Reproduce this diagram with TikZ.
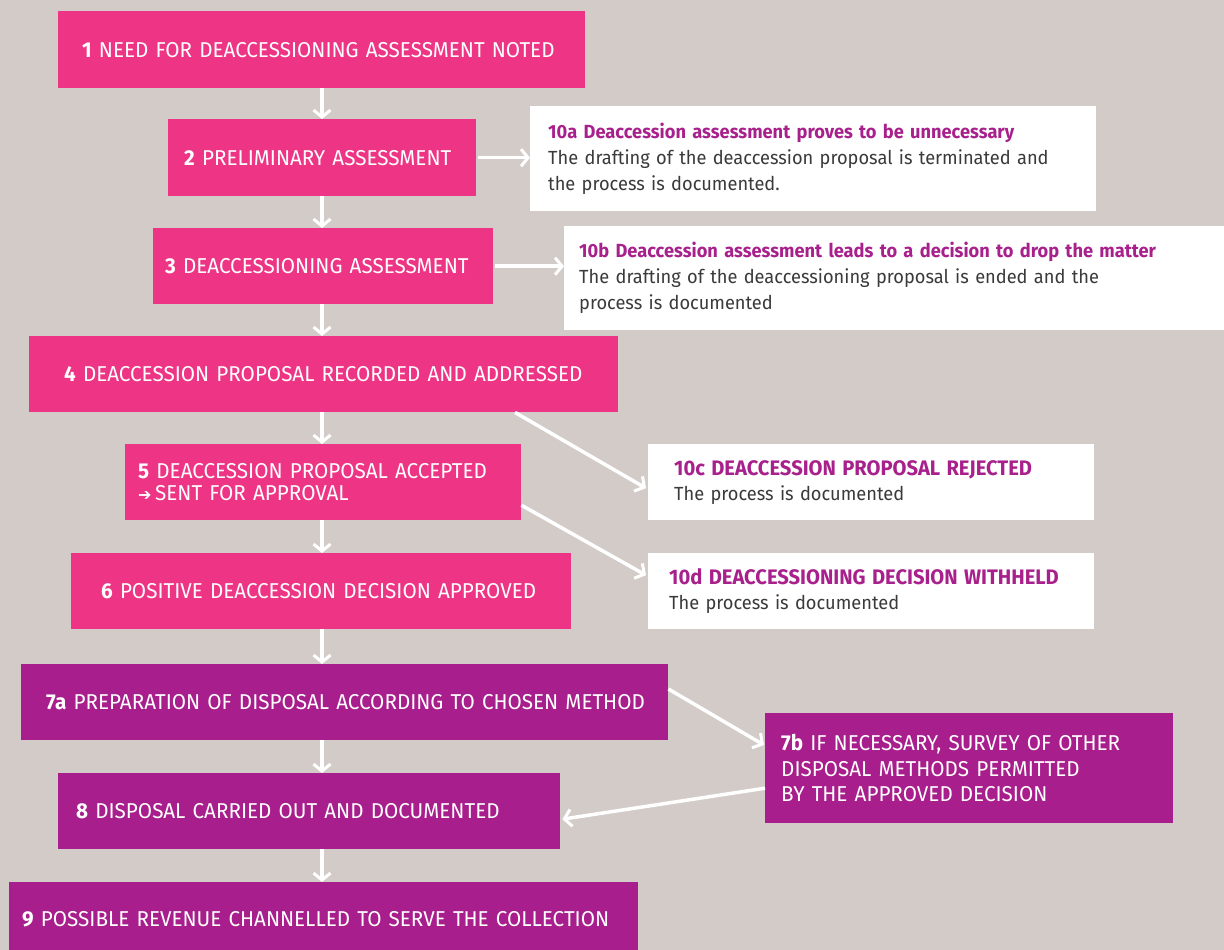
\documentclass[tikz,border=0pt]{standalone}
\usepackage{fontspec}
\setmainfont{Fira Sans}[FakeStretch=0.96]
\newfontfamily\symfont{DejaVu Sans}
\usetikzlibrary{arrows.meta,calc}
\definecolor{bgc}{HTML}{D3CBC8}
\definecolor{pinkc}{HTML}{EE3585}
\definecolor{purpc}{HTML}{A81E8C}
\definecolor{ttlc}{HTML}{A8208C}
\definecolor{bodyc}{HTML}{3A3A3A}
\begin{document}
\begin{tikzpicture}[x=1pt,y=-1pt,
  pbox/.style={fill=pinkc, text=white, anchor=north west, align=left,
    font=\fontsize{21.5}{22}\selectfont, inner ysep=0pt},
  vbox/.style={pbox, fill=purpc, font=\fontsize{21.5}{25.5}\selectfont},
  wbox/.style={fill=white, text=bodyc, anchor=north west, align=left,
    font=\fontsize{19}{26}\selectfont, inner ysep=0pt},
  capttl/.style={font=\fontsize{21.5}{25}\selectfont},
  flow/.style={draw=white, line width=3.5pt,
    -{Straight Barb[length=7pt,width=17pt,line width=3pt]}},
]
\clip (0,0) rectangle (1224,950);
\fill[bgc] (0,0) rectangle (1224,950);

% main column
\node[pbox, text width=479pt, inner xsep=24pt, minimum height=77pt] (n1) at (58,11)
  {\mbox{\textbf{1} NEED FOR DEACCESSIONING ASSESSMENT NOTED}};
\node[pbox, text width=276pt, inner xsep=16pt, minimum height=77pt] (n2) at (168,119)
  {\mbox{\textbf{2} PRELIMINARY ASSESSMENT}};
\node[pbox, text width=316pt, inner xsep=12pt, minimum height=76pt] (n3) at (153,228)
  {\mbox{\textbf{3} DEACCESSIONING ASSESSMENT}};
\node[pbox, text width=519pt, inner xsep=35pt, minimum height=76pt] (n4) at (29,336)
  {\mbox{\textbf{4} DEACCESSION PROPOSAL RECORDED AND ADDRESSED}};
\node[pbox, text width=370pt, inner xsep=13pt, minimum height=76pt] (n5) at (125,444)
  {\mbox{\textbf{5} DEACCESSION PROPOSAL ACCEPTED}\\\mbox{{\symfont\bfseries\fontsize{16}{16}\selectfont ➔}\,SENT FOR APPROVAL}};
\node[pbox, text width=440pt, inner xsep=30pt, minimum height=76pt] (n6) at (71,553)
  {\mbox{\textbf{6} POSITIVE DEACCESSION DECISION APPROVED}};
\node[vbox, text width=597pt, inner xsep=25pt, minimum height=76pt] (n7a) at (21,664)
  {\mbox{\textbf{7a} PREPARATION OF DISPOSAL ACCORDING TO CHOSEN METHOD}};
\node[vbox, text width=466pt, inner xsep=18pt, minimum height=76pt] (n8) at (58,773)
  {\mbox{\textbf{8} DISPOSAL CARRIED OUT AND DOCUMENTED}};
\node[vbox, text width=603pt, inner xsep=13pt, minimum height=74pt] (n9) at (9,882)
  {\mbox{\textbf{9} POSSIBLE REVENUE CHANNELLED TO SERVE THE COLLECTION}};
\node[vbox, text width=376pt, inner xsep=16pt, minimum height=110pt] (n7b) at (765,713)
  {\mbox{\textbf{7b} IF NECESSARY, SURVEY OF OTHER}\\\mbox{DISPOSAL METHODS PERMITTED}\\\mbox{BY THE APPROVED DECISION}};

% side boxes
\node[wbox, text width=530pt, inner xsep=18pt, minimum height=105pt] (n10a) at (530,106)
  {\mbox{\textcolor{ttlc}{\textbf{10a Deaccession assessment proves to be unnecessary}}}\\
   \mbox{The drafting of the deaccession proposal is terminated and}\\\mbox{the process is documented.}};
\node[wbox, text width=630pt, inner xsep=15pt, minimum height=104pt] (n10b) at (564,226)
  {\mbox{\textcolor{ttlc}{\textbf{10b Deaccession assessment leads to a decision to drop the matter}}}\\
   \mbox{The drafting of the deaccessioning proposal is ended and the}\\\mbox{process is documented}};
\node[wbox, text width=394pt, inner xsep=26pt, minimum height=76pt, font=\fontsize{19}{25}\selectfont] (n10c) at (648,444)
  {\mbox{\textcolor{ttlc}{\fontsize{21}{25}\selectfont\textbf{10c DEACCESSION PROPOSAL REJECTED}}}\\\mbox{The process is documented}};
\node[wbox, text width=404pt, inner xsep=21pt, minimum height=76pt, font=\fontsize{19}{25}\selectfont] (n10d) at (648,553)
  {\mbox{\textcolor{ttlc}{\fontsize{21}{25}\selectfont\textbf{10d DEACCESSIONING DECISION WITHHELD}}}\\\mbox{The process is documented}};

% vertical flow
\foreach \a/\b in {n1/n2,n2/n3,n3/n4,n4/n5,n5/n6,n6/n7a,n7a/n8,n8/n9}
  \draw[flow] (\a.south -| 322,0) -- (\b.north -| 322,0);

% side arrows
\draw[flow] (n2.east) ++(2,0) -- (n2.east -| n10a.west);
\draw[flow] (n3.east) ++(2,0) -- (n3.east -| n10b.west);
\draw[flow] ($(n4.south west)+(486,0)$) -- ($(n10c.west)+(-2,6)$);
\draw[flow] ($(n5.east)+(0,23)$) -- ($(n10d.west)+(-2,-16)$);
\draw[flow] ($(n7a.north east)+(0,25)$) -- ($(n7b.north west)+(-1,32)$);
\draw[flow] ($(n7b.west)+(0,20)$) -- ($(n8.east)+(2,8)$);
\end{tikzpicture}
\end{document}
